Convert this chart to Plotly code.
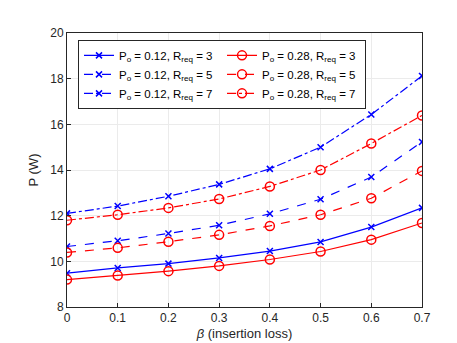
"""Power vs insertion loss for two Po values and three Rreq values."""

import plotly.graph_objects as go

## data
beta = [0, 0.1, 0.2, 0.3, 0.4, 0.5, 0.6, 0.7]
p012_r3 = [9.48, 9.71, 9.90, 10.15, 10.45, 10.85, 11.50, 12.34]
p012_r5 = [10.65, 10.90, 11.22, 11.58, 12.08, 12.72, 13.69, 15.23]
p012_r7 = [12.10, 12.42, 12.85, 13.37, 14.05, 15.00, 16.43, 18.12]
p028_r3 = [9.20, 9.38, 9.57, 9.80, 10.08, 10.43, 10.95, 11.68]
p028_r5 = [10.39, 10.59, 10.86, 11.16, 11.55, 12.04, 12.76, 13.96]
p028_r7 = [11.80, 12.04, 12.34, 12.73, 13.28, 14.00, 15.16, 16.39]
y_ticks = [8, 10, 12, 14, 16, 18, 20]
x_ticks = [0, 0.1, 0.2, 0.3, 0.4, 0.5, 0.6, 0.7]

## styles
blue, red = 'rgb(0,0,255)', 'rgb(255,0,0)'
series = [
    (p012_r3, '0.12', 3, blue, 'solid'),
    (p028_r3, '0.28', 3, red, 'solid'),
    (p012_r5, '0.12', 5, blue, 'dash'),
    (p028_r5, '0.28', 5, red, 'dash'),
    (p012_r7, '0.12', 7, blue, 'dashdot'),
    (p028_r7, '0.28', 7, red, 'dashdot'),
]

fig = go.Figure()
for vals, po, rreq, color, dash in series:
    is_blue = color == blue
    fig.add_trace(go.Scatter(
        x=beta, y=vals, mode='lines+markers',
        name=f'P<sub>o</sub> = {po}, R<sub>req</sub> = {rreq}',
        line=dict(color=color, width=1.2, dash=dash),
        marker=dict(symbol='x-thin-open' if is_blue else 'circle-open',
                    size=6 if is_blue else 9,
                    line=dict(color=color, width=1.5)),
    ))

axis_common = dict(
    showline=True, mirror=True, linecolor='rgb(38,38,38)', linewidth=1,
    ticks='inside', ticklen=4, tickcolor='rgb(38,38,38)',
    showgrid=True, gridcolor='rgb(235,235,235)', zeroline=False,
    tickfont=dict(size=12, color='rgb(38,38,38)'),
)

fig.update_layout(
    width=457, height=343,
    margin=dict(l=59, r=43, t=25, b=41),
    paper_bgcolor='white', plot_bgcolor='white',
    font=dict(family='Liberation Sans, Arial, sans-serif', color='rgb(38,38,38)'),
    xaxis=dict(range=[0, 0.7], tickvals=x_ticks, ticktext=[str(t) if t else '0' for t in x_ticks],
               title=dict(text='<i>β</i> (insertion loss)', font=dict(size=13), standoff=4),
               **axis_common),
    yaxis=dict(range=[8, 20], tickvals=y_ticks,
               title=dict(text='P (W)', font=dict(size=13), standoff=8),
               **axis_common),
    legend=dict(
        orientation='h', x=0.031, y=0.975, xanchor='left', yanchor='top',
        entrywidth=98, entrywidthmode='pixels', tracegroupgap=0,
        bgcolor='white', bordercolor='rgb(38,38,38)', borderwidth=1,
        font=dict(size=11.5, color='black'), itemwidth=30,
    ),
)

fig.write_html('out.html')
